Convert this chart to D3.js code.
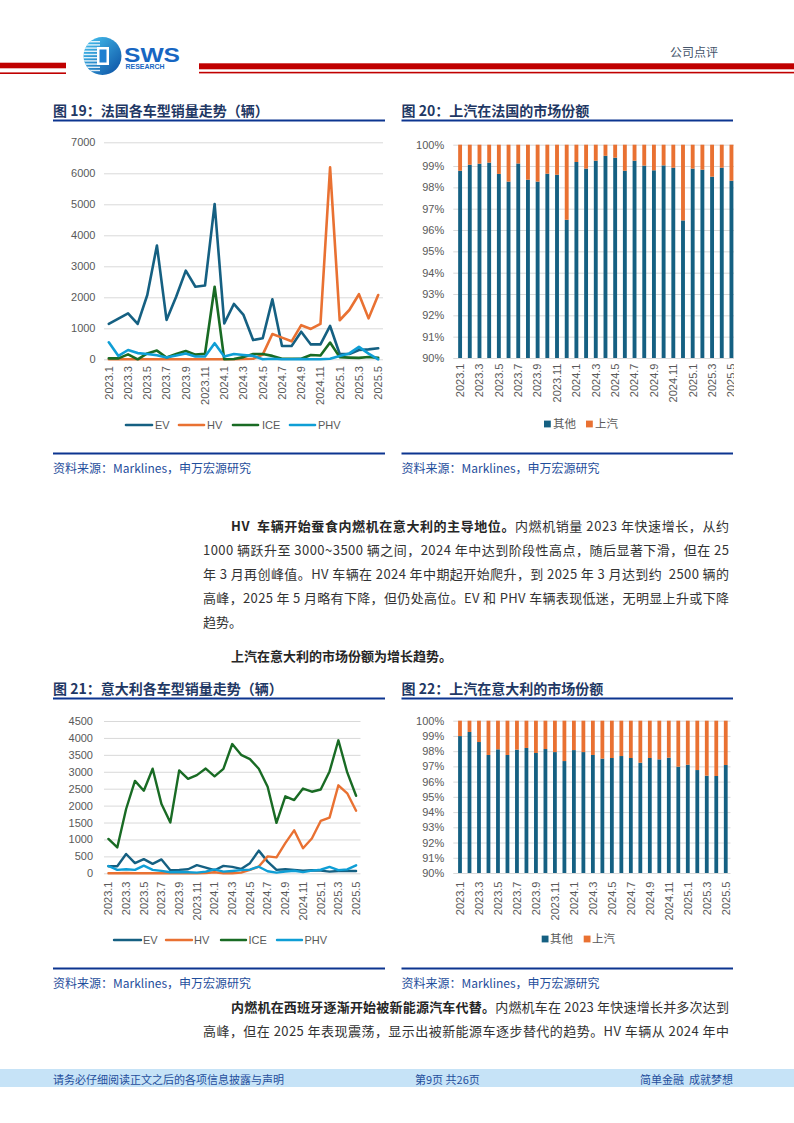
<!DOCTYPE html>
<html><head><meta charset="utf-8">
<script src="https://cdn.jsdelivr.net/npm/d3@7"></script>
<style>
html,body{margin:0;padding:0;background:#fff;}
svg{display:block;}
text{white-space:pre;}
</style></head><body>
<svg id="page" width="794" height="1123"></svg>
<script>
// ---------- DATA ----------
const months = ["2023.1","2023.2","2023.3","2023.4","2023.5","2023.6","2023.7","2023.8","2023.9","2023.10","2023.11","2023.12",
  "2024.1","2024.2","2024.3","2024.4","2024.5","2024.6","2024.7","2024.8","2024.9","2024.10","2024.11","2024.12",
  "2025.1","2025.2","2025.3","2025.4","2025.5"];
const tickMonths = ["2023.1","2023.3","2023.5","2023.7","2023.9","2023.11","2024.1","2024.3","2024.5","2024.7","2024.9","2024.11","2025.1","2025.3","2025.5"];

// Fig 19 France sales by type
const frEV  = [1140,1310,1480,1140,2075,3670,1270,2020,2860,2340,2380,5010,1160,1785,1430,620,680,1935,430,430,890,480,480,1075,170,170,300,320,355];
const frHV  = [0,0,0,0,0,0,0,0,0,0,0,0,0,0,10,20,150,815,700,580,1100,980,1140,6190,1260,1590,2100,1320,2075];
const frICE = [30,30,160,0,190,280,60,170,270,150,180,2340,0,10,70,170,170,110,20,20,20,140,125,540,70,55,45,75,45];
const frPHV = [550,110,300,200,170,130,60,120,190,90,90,520,90,170,140,110,0,20,0,0,10,0,0,20,110,190,400,185,0];

// Fig 20 France market share (%)
const frOther = [98.78,99.06,99.11,99.16,98.63,98.27,99.12,98.36,98.27,98.64,98.59,96.48,99.19,98.88,99.25,99.48,99.39,98.78,99.25,99.02,98.80,99.03,98.92,96.45,98.88,98.83,98.50,98.92,98.31];
const frSaic  = [1.22,0.94,0.89,0.84,1.37,1.73,0.88,1.64,1.73,1.36,1.41,3.52,0.81,1.12,0.75,0.52,0.61,1.22,0.75,0.98,1.20,0.97,1.08,3.55,1.12,1.17,1.50,1.08,1.69];

// Fig 21 Italy sales by type
const itEV  = [210,210,570,300,420,280,410,90,100,120,240,170,90,220,190,130,300,670,345,100,120,100,80,90,80,50,70,70,70];
const itHV  = [0,0,10,0,0,0,0,0,0,0,0,10,30,0,0,20,100,200,500,470,890,1270,740,1030,1546,1645,2600,2364,1850];
const itICE = [1015,765,1900,2730,2440,3090,2045,1500,3040,2790,2900,3095,2865,3085,3820,3500,3375,3090,2555,1490,2275,2165,2505,2410,2475,3010,3930,2980,2290];
const itPHV = [215,100,120,100,225,100,70,30,40,30,20,50,115,50,70,95,110,195,60,20,55,75,35,80,105,190,95,115,235];

// Fig 22 Italy market share (%)
const itOther = [98.99,99.26,98.60,97.75,98.12,97.75,98.10,98.21,97.88,98.14,97.94,97.35,98.07,97.94,97.75,97.51,97.55,97.68,97.55,97.24,97.55,97.46,97.57,96.98,97.11,96.76,96.39,96.37,97.09];
const itSaic  = [1.01,0.74,1.40,2.25,1.88,2.25,1.90,1.79,2.12,1.86,2.06,2.65,1.93,2.06,2.25,2.49,2.45,2.32,2.45,2.76,2.45,2.54,2.43,3.02,2.89,3.24,3.61,3.63,2.91];

const lineKeys = ["EV","HV","ICE","PHV"];
const shareKeys = ["其他","上汽"];

// ---------- STYLE ----------
const C = {EV:"#156082", HV:"#e97132", ICE:"#196b24", PHV:"#0f9ed5", other:"#156082", saic:"#e97132"};
const sans = "'Liberation Sans', Arial, sans-serif";
const cjk = "'Noto Sans CJK SC', 'Noto Sans', sans-serif";
const grid = "#d9d9d9", tickCol = "#595959";

const svg = d3.select("#page");

// ---------- HEADER ----------
const defs = svg.append("defs");
const lg = defs.append("linearGradient").attr("id","logoG").attr("x1",0).attr("y1",0).attr("x2",1).attr("y2",1);
lg.append("stop").attr("offset",0).attr("stop-color","#48c6f2");
lg.append("stop").attr("offset",1).attr("stop-color","#0b4ea2");
defs.append("clipPath").attr("id","logoClip").append("circle").attr("cx",102.5).attr("cy",56).attr("r",19);
defs.append("clipPath").attr("id","clip20").append("rect").attr("x",0).attr("y",0).attr("width",734).attr("height",1123);

svg.append("rect").attr("x",0).attr("y",62.7).attr("width",66).attr("height",5.6).attr("fill","#c00000");
svg.append("rect").attr("x",0).attr("y",72.4).attr("width",66).attr("height",1.6).attr("fill","#c00000");
svg.append("rect").attr("x",199).attr("y",63.3).attr("width",595).attr("height",6).attr("fill","#c00000");
svg.append("rect").attr("x",199).attr("y",71.8).attr("width",595).attr("height",1.6).attr("fill","#c00000");

const logo = svg.append("g");
logo.append("circle").attr("cx",102.5).attr("cy",56).attr("r",19).attr("fill","url(#logoG)");
const lgStr = logo.append("g").attr("clip-path","url(#logoClip)");
d3.range(41,72,3.2).forEach(yy=>{
  lgStr.append("rect").attr("x",83).attr("y",yy).attr("width",17).attr("height",1.4).attr("fill","#ffffff").attr("opacity",0.85);
});
logo.append("rect").attr("x",97).attr("y",47).attr("width",12).attr("height",18).attr("fill","#ffffff");
logo.append("rect").attr("x",99.5).attr("y",49.5).attr("width",7).attr("height",13).attr("fill","#1d7fd0");
logo.append("text").attr("x",124).attr("y",61.7).attr("font-family",sans).attr("font-weight","bold")
  .attr("font-size",21).attr("textLength",56).attr("lengthAdjust","spacingAndGlyphs").attr("fill","#1766c2").text("SWS");
logo.append("text").attr("x",125.5).attr("y",69.4).attr("font-family",sans).attr("font-weight","bold")
  .attr("font-size",6.3).attr("textLength",39).attr("lengthAdjust","spacingAndGlyphs").attr("fill","#1766c2").text("RESEARCH");

svg.append("text").attr("x",670).attr("y",56.5).attr("font-family",cjk).attr("font-size",12)
  .attr("fill","#44546a").text("公司点评");

// ---------- FIGURE FRAMES ----------
function frame(x0,x1,titleY,title,srcLineY,srcY){
  svg.append("text").attr("x",x0).attr("y",titleY).attr("font-family",cjk).attr("font-weight","bold")
    .attr("font-size",14).attr("fill","#1f3864").text(title);
  svg.append("rect").attr("x",x0).attr("y",titleY+4).attr("width",x1-x0).attr("height",2).attr("fill","#0c3590");
  svg.append("rect").attr("x",x0).attr("y",srcLineY).attr("width",x1-x0).attr("height",2).attr("fill","#0c3590");
  svg.append("text").attr("x",x0).attr("y",srcY).attr("font-family",cjk).attr("font-size",12)
    .attr("fill","#1f4e9c").text("资料来源：Marklines，申万宏源研究");
}
frame(53,385,115.5,"图 19：法国各车型销量走势（辆）",452.5,472.5);
frame(401.5,733,115.5,"图 20：上汽在法国的市场份额",452.5,472.5);
frame(53,385,693.5,"图 21：意大利各车型销量走势（辆）",967.5,987.5);
frame(401.5,733,693.5,"图 22：上汽在意大利的市场份额",967.5,987.5);

// ---------- LINE CHARTS ----------
function lineChart(cfg){
  const g = svg.append("g");
  const x = d3.scaleBand().domain(months).range([cfg.x0,cfg.x1]).padding(0);
  const y = d3.scaleLinear().domain([0,cfg.max]).range([cfg.yB,cfg.yT]);
  const bw = x.bandwidth();
  g.append("g").attr("transform",`translate(${cfg.x0},0)`)
    .call(d3.axisLeft(y).tickValues(d3.range(0,cfg.max+1,cfg.step)).tickSize(-(cfg.x1-cfg.x0)).tickPadding(cfg.pad).tickFormat(d3.format("d")))
    .call(a=>a.select(".domain").remove())
    .call(a=>a.selectAll("line").attr("stroke",grid).attr("stroke-width",1))
    .call(a=>a.selectAll("text").attr("fill",tickCol).attr("font-size",11).attr("font-family",sans));
  g.append("g").attr("transform",`translate(0,${cfg.labelTop})`)
    .call(d3.axisBottom(x).tickValues(tickMonths).tickSize(0))
    .call(a=>a.select(".domain").remove())
    .call(a=>a.selectAll("text").attr("x",0).attr("y",0).attr("dy","0.35em").attr("transform","rotate(-90)")
      .style("text-anchor","end").attr("fill",tickCol).attr("font-size",11).attr("font-family",sans));
  const line = d3.line().x((d,i)=>x(months[i])+bw/2).y(d=>y(d));
  cfg.series.forEach((s,k)=>{
    g.append("path").datum(s).attr("d",line).attr("fill","none").attr("stroke",C[lineKeys[k]])
      .attr("stroke-width",cfg.sw).attr("stroke-linejoin","round").attr("stroke-linecap","round");
  });
  const lgd = g.append("g");
  lineKeys.forEach((k,i)=>{
    const it = cfg.legend[i];
    lgd.append("line").attr("x1",it[0]).attr("x2",it[1]).attr("y1",cfg.legendY).attr("y2",cfg.legendY)
      .attr("stroke",C[k]).attr("stroke-width",cfg.sw).attr("stroke-linecap","round");
    lgd.append("text").attr("x",it[2]).attr("y",cfg.legendY).attr("dy","0.36em").attr("font-family",sans)
      .attr("font-size",11).attr("fill",tickCol).text(k);
  });
}
lineChart({x0:104,x1:383,yT:142.3,yB:359.3,max:7000,step:1000,pad:8.5,labelTop:366,sw:2.6,
  series:[frEV,frHV,frICE,frPHV],legendY:425,
  legend:[[126,152,155],[179,204,207],[233,258,262],[290,315,318]]});
lineChart({x0:104,x1:360.5,yT:721,yB:873.3,max:4500,step:500,pad:11,labelTop:881.5,sw:2.4,
  series:[itEV,itHV,itICE,itPHV],legendY:940,
  legend:[[114,141,143],[166,192,194],[221,246,248.5],[277,302,304.5]]});

// ---------- SHARE BAR CHARTS ----------
function shareChart(cfg){
  const g = svg.append("g");
  if(cfg.clip) g.attr("clip-path","url(#"+cfg.clip+")");
  const x = d3.scaleBand().domain(months).range([cfg.x0,cfg.x1]).paddingInner(0.6).paddingOuter(0.3);
  const y = d3.scaleLinear().domain([90,100]).range([cfg.yB,cfg.yT]);
  g.append("g").attr("transform",`translate(${cfg.x0-2},0)`)
    .call(d3.axisLeft(y).ticks(10).tickSize(-(cfg.x1-cfg.x0+2)).tickPadding(9).tickFormat(d=>d+"%"))
    .call(a=>a.select(".domain").remove())
    .call(a=>a.selectAll("line").attr("stroke",grid).attr("stroke-width",1))
    .call(a=>a.selectAll("text").attr("fill",tickCol).attr("font-size",11).attr("font-family",sans));
  g.append("g").attr("transform",`translate(0,${cfg.labelTop})`)
    .call(d3.axisBottom(x).tickValues(tickMonths).tickSize(0))
    .call(a=>a.select(".domain").remove())
    .call(a=>a.selectAll("text").attr("x",0).attr("y",0).attr("dy","0.35em").attr("transform","rotate(-90)")
      .style("text-anchor","end").attr("fill",tickCol).attr("font-size",11).attr("font-family",sans));
  g.append("g").selectAll("rect").data(cfg.other).join("rect")
    .attr("x",(d,i)=>x(months[i])).attr("width",x.bandwidth())
    .attr("y",d=>y(d)).attr("height",d=>y(90)-y(d)).attr("fill",C.other);
  g.append("g").selectAll("rect").data(cfg.saic).join("rect")
    .attr("x",(d,i)=>x(months[i])).attr("width",x.bandwidth())
    .attr("y",(d,i)=>y(cfg.other[i]+d)).attr("height",(d,i)=>y(cfg.other[i])-y(cfg.other[i]+d)).attr("fill",C.saic);
  const cols=[C.other,C.saic];
  shareKeys.forEach((k,i)=>{
    const it = cfg.legend[i];
    g.append("rect").attr("x",it[0]).attr("y",cfg.legendY-3.4).attr("width",6.8).attr("height",6.8).attr("fill",cols[i]);
    g.append("text").attr("x",it[1]).attr("y",cfg.legendY).attr("dy","0.36em").attr("font-family",cjk)
      .attr("font-size",11.5).attr("fill",tickCol).text(k);
  });
}
shareChart({x0:455.25,x1:736.3,yT:144.7,yB:358,labelTop:363.5,clip:"clip20",
  other:frOther,saic:frSaic,legendY:424,legend:[[544,553],[586,595]]});
shareChart({x0:455.25,x1:730.5,yT:720.7,yB:873,labelTop:881.5,
  other:itOther,saic:itSaic,legendY:939,legend:[[541.7,550],[583.7,592]]});

// ---------- BODY TEXT ----------
function para(x0,x1,y,parts,justify){
  const t = svg.append("text").attr("x",x0).attr("y",y).attr("font-family",cjk).attr("font-size",13).attr("fill","#333333");
  parts.forEach(p=>{
    const ts = t.append("tspan").text(p[0]);
    if(p[1]) ts.attr("font-weight","bold").attr("fill","#262626");
  });
  if(justify) t.attr("textLength",x1-x0).attr("lengthAdjust","spacing");
}
para(231,729,531,[["HV  车辆开始蚕食内燃机在意大利的主导地位。",true],["内燃机销量 2023 年快速增长，从约",false]],true);
para(203,729,555,[["1000 辆跃升至 3000~3500 辆之间，2024 年中达到阶段性高点，随后显著下滑，但在 25",false]],true);
para(203,729,579,[["年 3 月再创峰值。HV 车辆在 2024 年中期起开始爬升，到 2025 年 3 月达到约  2500 辆的",false]],true);
para(203,729,603,[["高峰，2025 年 5 月略有下降，但仍处高位。EV 和 PHV 车辆表现低迷，无明显上升或下降",false]],true);
para(203,729,627,[["趋势。",false]],false);
para(231,729,661,[["上汽在意大利的市场份额为增长趋势。",true]],false);
para(231,729,1011.5,[["内燃机在西班牙逐渐开始被新能源汽车代替。",true],["内燃机车在 2023 年快速增长并多次达到",false]],true);
para(203,729,1036,[["高峰，但在 2025 年表现震荡，显示出被新能源车逐步替代的趋势。HV 车辆从 2024 年中",false]],true);

// ---------- FOOTER ----------
svg.append("rect").attr("x",0).attr("y",1069).attr("width",794).attr("height",18).attr("fill","#c6e3f7");
svg.append("text").attr("x",53).attr("y",1084).attr("font-family",cjk).attr("font-size",11).attr("fill","#1f4e9c")
  .text("请务必仔细阅读正文之后的各项信息披露与声明");
svg.append("text").attr("x",415).attr("y",1084).attr("font-family",cjk).attr("font-size",11).attr("fill","#1f4e9c")
  .text("第9页 共26页");
svg.append("text").attr("x",733).attr("y",1084).attr("text-anchor","end").attr("font-family",cjk).attr("font-size",11).attr("fill","#1f4e9c")
  .text("简单金融  成就梦想");
</script>
</body></html>
